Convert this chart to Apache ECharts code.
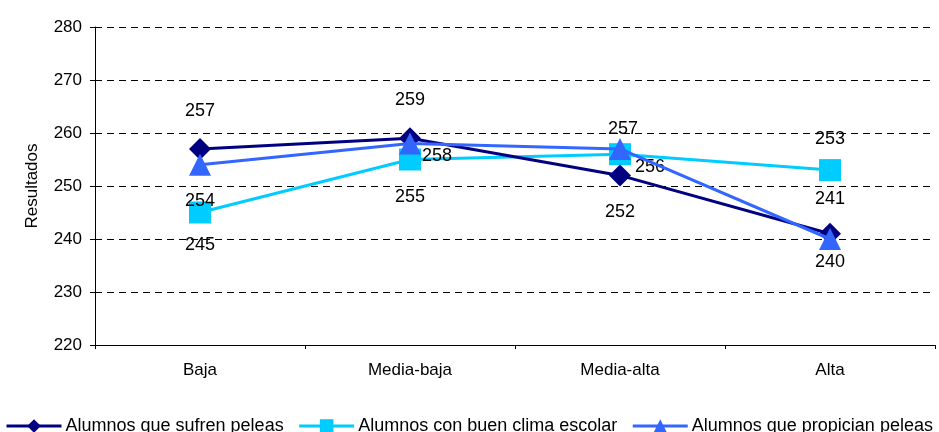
<!DOCTYPE html>
<html><head><meta charset="utf-8">
<script src="https://cdn.jsdelivr.net/npm/echarts@6/dist/echarts.min.js"></script>
<style>html,body{margin:0;padding:0;background:#fff;overflow:hidden}#c{width:939px;height:432px}</style>
</head><body><div id="c"></div>
<script>
const categories = ['Baja', 'Media-baja', 'Media-alta', 'Alta'];
const sufrenPeleas = [257, 259, 252, 241];
const buenClima = [245, 255, 256, 253];
const propicianPeleas = [254, 258, 257, 240];
const seriesNames = ['Alumnos que sufren peleas', 'Alumnos con buen clima escolar', 'Alumnos que propician peleas'];
const yTicks = [220, 230, 240, 250, 260, 270, 280];

// label placement per point (style, not data); distances measured from symbol edge
const labelStyle = {
  s1: [{position:'top',distance:18},{position:'top',distance:18},{position:'bottom',distance:17},{position:'top',distance:15}],
  s2: [{position:'bottom',distance:13},{position:'bottom',distance:18},{position:'right',distance:4,offset:[0,13]},{position:'top',distance:11}],
  s3: [{position:'bottom',distance:16},{position:'right',distance:1,offset:[0,12]},{position:'top',distance:0,offset:[3,0]},{position:'bottom',distance:3}]
};
function mk(vals, ls){
  return vals.map((v,i)=>({value:v,label:Object.assign({show:true},ls[i])}));
}
const FF = 'Liberation Sans, Arial, sans-serif';
const chart = echarts.init(document.getElementById('c'));
const lbl = {color:'#000', fontSize:18, fontFamily:FF};
chart.setOption({
  animation:false,
  grid:{left:95,right:4,top:27,bottom:87},
  legend:{
    top:412, left:0, itemGap:14, itemWidth:55, itemHeight:17,
    textStyle:{color:'#000',fontSize:18,fontFamily:FF,padding:[0,0,0,-1]},
    lineStyle:{width:3},
    data:seriesNames
  },
  xAxis:{
    type:'category', data:categories, boundaryGap:true,
    axisLine:{lineStyle:{color:'#000',width:1}},
    axisTick:{show:true,length:4,lineStyle:{color:'#000'}},
    axisLabel:{color:'#000',fontSize:17,margin:17,fontFamily:FF}
  },
  yAxis:{
    type:'value', min:yTicks[0], max:yTicks[yTicks.length-1], interval:10,
    name:'Resultados', nameLocation:'middle', nameGap:54, nameRotate:90,
    nameTextStyle:{color:'#000',fontSize:17,fontFamily:FF},
    axisLine:{show:true,lineStyle:{color:'#000',width:1}},
    axisTick:{show:true,length:5,lineStyle:{color:'#000'}},
    axisLabel:{color:'#000',fontSize:17,margin:13,fontFamily:FF},
    splitLine:{lineStyle:{color:'#000',type:[7,5],width:1}}
  },
  series:[
    {name:seriesNames[0],type:'line',data:mk(sufrenPeleas,labelStyle.s1),symbol:'diamond',symbolSize:22,
     itemStyle:{color:'#000080'},lineStyle:{color:'#000080',width:3},label:lbl,z:3},
    {name:seriesNames[1],type:'line',data:mk(buenClima,labelStyle.s2),symbol:'rect',symbolSize:22,
     itemStyle:{color:'#00CCFF'},lineStyle:{color:'#00CCFF',width:3},label:lbl,z:2},
    {name:seriesNames[2],type:'line',data:mk(propicianPeleas,labelStyle.s3),symbol:'triangle',symbolSize:22,
     itemStyle:{color:'#3366FF'},lineStyle:{color:'#3366FF',width:3},label:lbl,z:4}
  ]
});
</script></body></html>
